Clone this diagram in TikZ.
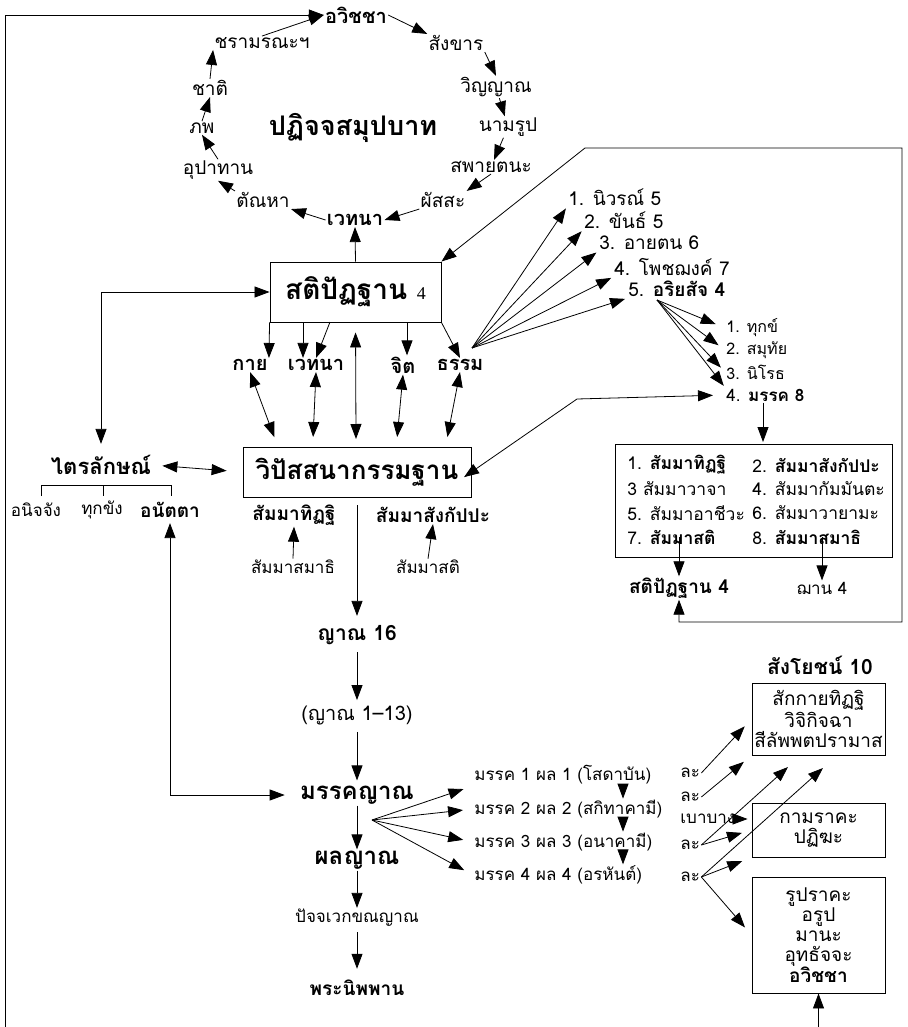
\documentclass[tikz,border=0pt]{standalone}
\usepackage{fontspec}
\setmainfont[Script=Thai]{Loma}
\newfontfamily\numfont{Liberation Serif}
\usetikzlibrary{arrows.meta}

\begin{document}
\begin{tikzpicture}[x=1pt,y=-1pt,line width=0.8pt,
  txt/.style={inner sep=1pt,font=\fontsize{17}{20}\selectfont},
  cyc/.style={inner sep=1pt,font=\fontsize{19}{21}\selectfont},
  eight/.style={inner sep=1pt,anchor=west,font=\fontsize{17.5}{20}\selectfont},
  bld/.style={inner sep=1pt,font=\fontsize{19}{21}\selectfont\bfseries},
  mid/.style={inner sep=1pt,font=\fontsize{20}{22}\selectfont\bfseries},
  big/.style={inner sep=1pt,font=\fontsize{24}{26}\selectfont\bfseries},
  frame/.style={draw,line width=0.9pt},
  arr/.style={-{Triangle[length=15pt,width=11pt]}},
  darr/.style={{Triangle[length=15pt,width=11pt]}-{Triangle[length=15pt,width=11pt]}}]
  \useasboundingbox (0,0) rectangle (907,1027);

  % paticcasamuppada cycle
  \node[mid] (av) at (356,15) {อวิชชา};
  \node[cyc] (sk) at (456,43) {สังขาร};
  \node[cyc] (wn) at (496,87) {วิญญาณ};
  \node[cyc] (nr) at (508,127) {นามรูป};
  \node[cyc] (sa) at (491,167) {สพายตนะ};
  \node[cyc] (ps) at (443,200) {ผัสสะ};
  \node[mid] (vt) at (355,220) {เวทนา};
  \node[cyc] (tn) at (263,200) {ตัณหา};
  \node[cyc] (up) at (218,170) {อุปาทาน};
  \node[cyc] (pb) at (202,128) {ภพ};
  \node[cyc] (ch) at (210,88) {ชาติ};
  \node[cyc] (jr) at (262,43) {ชรามรณะฯ};
  \node[big,font=\fontsize{27}{29}\selectfont\bfseries] (title) at (353,128) {ปฏิจจสมุปบาท};

  \begin{scope}[arr]
    \draw (av.east) -- (sk.north west);
    \draw (sk.south east) -- (wn.north);
    \draw (wn) -- (nr);
    \draw (nr) -- (sa);
    \draw (sa.south) -- (ps.north east);
    \draw (ps.south west) -- (vt.east);
    \draw (vt.west) -- (tn.south east);
    \draw (tn.north west) -- (up.south);
    \draw (up.north) -- (pb.south);
    \draw (pb.north) -- (ch.south);
    \draw (ch.north) -- (jr.south west);
    \draw (jr.north) -- (av.west);
  \end{scope}

  % satipatthana and vipassana
  \node[frame,minimum width=171pt,minimum height=60pt] (sp) at (355.5,292)
    {\fontsize{28}{30}\selectfont\bfseries สติปัฏฐาน \fontsize{18}{20}\mdseries\numfont 4};
  \node[mid] (kay) at (250,365) {กาย};
  \node[mid] (vt2) at (316,365) {เวทนา};
  \node[mid] (jit) at (403,365) {จิต};
  \node[mid] (dh) at (460,365) {ธรรม};
  \node[frame,minimum width=228pt,minimum height=50pt] (vp) at (357,472)
    {\fontsize{26}{28}\selectfont\bfseries วิปัสสนากรรมฐาน};
  \node[big,font=\fontsize{22}{24}\selectfont\bfseries] (tl) at (101,465) {ไตรลักษณ์};
  \node[txt] (ac) at (36,510) {อนิจจัง};
  \node[txt] (tk) at (102,510) {ทุกขัง};
  \node[bld] (at) at (170,510) {อนัตตา};
  \node[bld] (st1) at (294,515) {สัมมาทิฏฐิ};
  \node[bld] (st2) at (433,515) {สัมมาสังกัปปะ};
  \node[txt] (sm1) at (293,567) {สัมมาสมาธิ};
  \node[txt] (sm2) at (428,567) {สัมมาสติ};

  \coordinate (p2) at (303,322);
  \coordinate (p3) at (330,322);
  \coordinate (p4) at (407,322);
  \coordinate (v1) at (275,439);
  \coordinate (v2) at (313,439);
  \coordinate (v3) at (356,439);
  \coordinate (v4) at (397,439);
  \coordinate (v5) at (447,439);

  \begin{scope}[arr]
    \draw (sp.north) -- (vt.south);
    \draw (sp.south west) -- (kay.north east);
    \draw (p2) -- (p2 |- vt2.north);
    \draw (p3) -- (vt2.north);
    \draw (p4) -- (p4 |- jit.north);
    \draw (sp.south east) -- (dh.north);
    \draw (sm1.north) -- (st1.south);
    \draw (sm2.north) -- (st2.south);
  \end{scope}
  \begin{scope}[darr]
    \draw[shorten >=2pt] (kay.south) -- (v1);
    \draw[shorten >=2pt] (vt2.south) -- (v2);
    \draw[shorten <=10pt] (sp.south) -- (v3);
    \draw[shorten >=2pt] (jit.south) -- (v4);
    \draw[shorten >=2pt] (dh.south) -- (v5);
    \draw[shorten >=10pt] (sp.west) -| (tl.north);
    \draw[shorten <=10pt,shorten >=16pt] (tl.east) -- (vp.west);
  \end{scope}
  \draw (41,496) |- (171,485) -- (171,496) (103,485) -- (103,496);

  % insight knowledges
  \node[bld,font=\fontsize{21}{23}\selectfont\bfseries] (n16) at (357,635) {ญาณ 16};
  \node[txt,font=\fontsize{20}{22}\selectfont] (n113) at (357,715) {(ญาณ 1–13)};
  \node[big] (mk) at (357,795) {มรรคญาณ};
  \node[big] (ph) at (357,860) {ผลญาณ};
  \node[txt] (pj) at (357,918) {ปัจจเวกขณญาณ};
  \node[bld] (nb) at (357,988) {พระนิพพาน};
  \begin{scope}[arr]
    \draw[shorten <=8pt,shorten >=8pt] (vp.south) -- (n16.north);
    \draw[shorten <=6pt,shorten >=4pt] (n16.south) -- (n113.north);
    \draw[shorten <=6pt,shorten >=4pt] (n113.south) -- (mk.north);
    \draw (mk.south) -- (ph.north);
    \draw (ph.south) -- (pj.north);
    \draw[shorten <=4pt,shorten >=10pt] (pj.south) -- (nb.north);
  \end{scope}
  \draw[darr,shorten <=4pt,shorten >=14pt] (at.south) |- (mk.west);

  % dhamma items
  \node[cyc,anchor=west] (n1) at (567,197) {1. นิวรณ์ 5};
  \node[cyc,anchor=west] (n2) at (583,220) {2. ขันธ์ 5};
  \node[cyc,anchor=west] (n3) at (598,243) {3. อายตน 6};
  \node[cyc,anchor=west] (n4) at (613,267) {4. โพชฌงค์ 7};
  \node[cyc,anchor=west] (n5) at (627,289) {5. \bfseries อริยสัจ 4};
  \node[txt,anchor=west,font=\fontsize{16}{18}\selectfont] (a1) at (725,328) {1. ทุกข์};
  \node[txt,anchor=west,font=\fontsize{16}{18}\selectfont] (a2) at (725,350) {2. สมุทัย};
  \node[txt,anchor=west,font=\fontsize{16}{18}\selectfont] (a3) at (725,372) {3. นิโรธ};
  \node[txt,anchor=west] (a4) at (725,395) {4. \bfseries มรรค 8};
  \coordinate (ao) at (657,300);
  \coordinate (do) at (472,348);
  \begin{scope}[arr]
    \foreach \i in {1,...,5}
      \draw[shorten >=2pt] (do) -- (n\i.south west);
    \draw[shorten >=10pt] (ao) -- (a1.west);
    \draw[shorten >=8pt] (ao) -- (a2.west);
    \draw[shorten >=6pt] (ao) -- (a3.west);
    \draw[shorten >=2pt] (ao) -- (a4.north west);
  \end{scope}

  % eightfold path
  \node[frame,minimum width=277pt,minimum height=113pt] (mg) at (753.5,500.5) {};
  \node[eight] (m1) at (626,465) {1. \bfseries สัมมาทิฏฐิ};
  \node[eight] (m2) at (751,465) {2. \bfseries สัมมาสังกัปปะ};
  \node[eight] (m3) at (626,489) {3 สัมมาวาจา};
  \node[eight] (m4) at (751,489) {4. สัมมากัมมันตะ};
  \node[eight] (m5) at (626,513) {5. สัมมาอาชีวะ};
  \node[eight] (m6) at (751,513) {6. สัมมาวายามะ};
  \node[eight] (m7) at (626,537) {7. \bfseries สัมมาสติ};
  \node[eight] (m8) at (751,537) {8. \bfseries สัมมาสมาธิ};
  \node[bld] (sat2) at (679,588) {สติปัฏฐาน 4};
  \node[txt] (jh) at (822,588) {ฌาน 4};
  \coordinate (k1) at (577,399);
  \coordinate (c1) at (902,622);
  \coordinate (c2) at (902,148);
  \coordinate (c3) at (585,148);
  \begin{scope}[arr]
    \draw (a4.south -| 763,0) -- (763,442);
    \draw (sat2.north |- m7.center) -- (sat2.north);
    \draw (jh.north |- m8.center) -- (jh.north);
  \end{scope}
  \draw[darr,shorten <=-9pt,shorten >=12pt] (vp.east) -- (k1) -- (a4.west);
  \draw[darr] (sat2.south) |- (c1) -- (c2) -- (c3) -- (sp.north east);

  % paths and fetters
  \node[txt,anchor=west] (r1) at (473,775) {มรรค 1 ผล 1 (โสดาบัน)};
  \node[txt,anchor=west] (r2) at (473,809) {มรรค 2 ผล 2 (สกิทาคามี)};
  \node[txt,anchor=west] (r3) at (473,842) {มรรค 3 ผล 3 (อนาคามี)};
  \node[txt,anchor=west] (r4) at (473,875) {มรรค 4 ผล 4 (อรหันต์)};
  \node[txt,anchor=west] (l1) at (679,773) {ละ};
  \node[txt,anchor=west] (l2) at (679,797) {ละ};
  \node[txt,anchor=west] (bb) at (679,819) {เบาบาง};
  \node[txt,anchor=west] (l3) at (679,845) {ละ};
  \node[txt,anchor=west] (l4) at (679,877) {ละ};
  \node[bld,font=\fontsize{21}{23}\selectfont\bfseries] (sy) at (820,665) {สังโยชน์ 10};
  \node[frame,txt,align=center,font=\fontsize{19}{20}\selectfont,
    minimum width=133pt,minimum height=72pt] (b1) at (818.5,719)
    {สักกายทิฏฐิ\\วิจิกิจฉา\\สีลัพพตปรามาส};
  \node[frame,txt,align=center,font=\fontsize{19}{20}\selectfont,
    minimum width=133pt,minimum height=54pt] (b2) at (818.5,830)
    {กามราคะ\\ปฏิฆะ};
  \node[frame,txt,align=center,font=\fontsize{19}{20}\selectfont,
    minimum width=133pt,minimum height=116pt] (b3) at (818.5,935)
    {รูปราคะ\\อรูป\\มานะ\\อุทธัจจะ\\\textbf{อวิชชา}};
  \coordinate (mo) at (372,820);
  \coordinate (rx) at (623,0);
  \coordinate (t1) at (788,767);
  \coordinate (t2) at (823,768);
  \coordinate (lb) at (5,1060);
  \coordinate (lt) at (5,15);
  \begin{scope}[arr]
    \draw[shorten >=10pt] (mo) -- (r1.south west);
    \draw[shorten >=10pt] (mo) -- (r2.west);
    \draw[shorten >=10pt] (mo) -- (r3.west);
    \draw[shorten >=10pt] (mo) -- (r4.west);
    \draw (r1.south -| rx) -- (r2.north -| rx);
    \draw (r2.south -| rx) -- (r3.north -| rx);
    \draw (r3.south -| rx) -- (r4.north -| rx);
    \draw[shorten >=10pt] (l1.east) -- (b1.west);
    \draw[shorten >=10pt] (l2.east) -- (b1.south west);
    \draw[shorten >=4pt] (bb.east) -- (bb.east -| b2.west);
    \draw (l3.east) -- (t1);
    \draw[shorten >=10pt] (l3.east) -- (b2.west);
    \draw (l4.east) -- (t2);
    \draw[shorten >=10pt] (l4.east) -- (b2.south west);
    \draw[shorten >=10pt] (l4.east) -- (b3.west);
  \end{scope}
  \draw[darr] (b3.south) -- (b3.south |- lb) -- (lb) -- (lt) -- (av.west);
\end{tikzpicture}
\end{document}
